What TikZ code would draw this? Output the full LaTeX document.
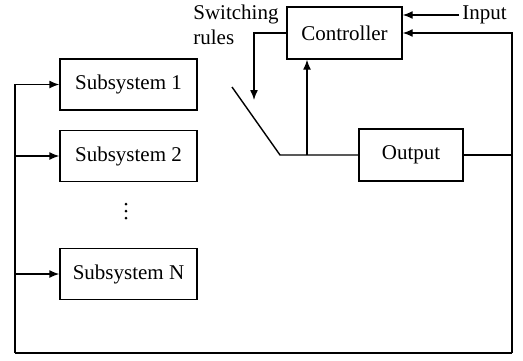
\documentclass[tikz,border=0pt]{standalone}
\usepackage{fontspec}
\setmainfont{Liberation Serif}
\usetikzlibrary{arrows.meta}
\tikzstyle{sysbox} = [draw=black, fill=white, line width=0.7pt, rectangle, minimum width=68.5pt, minimum height=25.5pt, inner sep=0pt]
\tikzstyle{ctrlbox} = [sysbox, minimum width=57.5pt, minimum height=26pt]
\tikzstyle{outbox} = [sysbox, minimum width=52pt, minimum height=26pt]
\tikzstyle{arr} = [line width=0.7pt, -{Latex[length=5pt,width=4pt]}]
\tikzstyle{wire} = [line width=0.7pt]

\begin{document}
\begin{tikzpicture}[x=0.5pt, y=-0.5pt, font=\fontsize{10.5}{12.5}\selectfont]
\useasboundingbox (0,0) rectangle (523,360);
% subsystems
\node[sysbox] (sub1) at (128.5,84.5) {Subsystem 1};
\node[sysbox] (sub2) at (128.5,156) {Subsystem 2};
\coordinate (dots) at (126,211);
\foreach \d in {-7,0,7}
  \fill ([yshift=-\d*0.5pt]dots) circle (0.75pt);
\node[sysbox] (subN) at (128.5,274) {Subsystem N};
% controller and output
\node[ctrlbox] (ctrl) at (344.5,33) {Controller};
\node[outbox] (out) at (411,155) {Output};
\node[anchor=west, inner sep=1.5pt] (inp) at (459,15) {Input};
\node[anchor=west, align=left, inner sep=0pt] (rules) at (193,25) {Switching\\rules};
\coordinate (bl) at (15,353);
\coordinate (br) at (512,353);
\coordinate (sw0) at (232,87);
\coordinate (sw1) at (280,155);
\coordinate (tap) at (307,155);
\coordinate (drop) at (254,100);

% feedback loop
\draw[wire] (out.east) -- (br |- out.east);
\draw[wire] (br) -- (bl);
\draw[arr] (br) |- (ctrl.east);
\draw[arr] (bl) |- (sub1.west);
\draw[arr] (bl |- sub2.west) -- (sub2.west);
\draw[arr] (bl |- subN.west) -- (subN.west);
\draw[arr] (inp.west) -- (ctrl.east |- inp.west);
% switch
\draw[wire] (sw0) -- (sw1) -- (out.west);
\draw[arr] (tap) -- (tap |- ctrl.south);
\draw[arr] (ctrl.west) -| (drop);
\end{tikzpicture}
\end{document}
